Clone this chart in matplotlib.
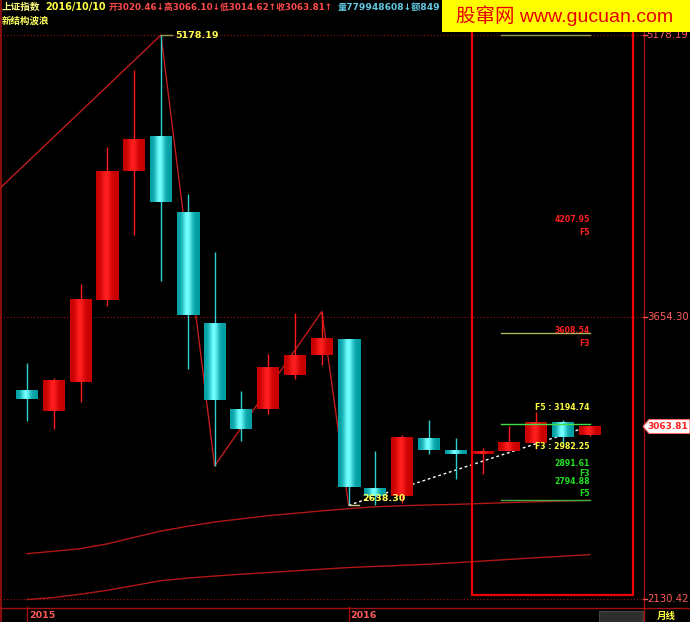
import matplotlib
matplotlib.use('Agg')
import matplotlib.pyplot as plt
import numpy as np
from matplotlib.patches import Rectangle, Polygon
from matplotlib.lines import Line2D

plt.rcParams['font.family'] = ['DejaVu Sans', 'Noto Sans CJK SC']

# ---------------- data ----------------
months = ['2015-01', '2015-02', '2015-03', '2015-04', '2015-05', '2015-06',
          '2015-07', '2015-08', '2015-09', '2015-10', '2015-11', '2015-12',
          '2016-01', '2016-02', '2016-03', '2016-04', '2016-05', '2016-06',
          '2016-07', '2016-08', '2016-09', '2016-10']
opens = [3258.63, 3148.13, 3302.41, 3748.68, 4441.66, 4633.10,
         4216.82, 3617.00, 3157.83, 3156.07, 3340.00, 3450.00,
         3536.59, 2730.00, 2690.00, 3001.00, 2937.00, 2917.00,
         2931.00, 2975.00, 3085.00, 3020.46]
highs = [3406.79, 3324.55, 3835.57, 4572.39, 4986.50, 5178.19,
         4317.05, 4006.34, 3256.74, 3457.88, 3678.27, 3684.57,
         3538.69, 2933.96, 3018.80, 3097.00, 3002.00, 2945.00,
         3069.00, 3140.00, 3100.00, 3066.10]
lows = [3095.07, 3049.11, 3198.00, 3716.86, 4099.13, 3847.88,
        3373.54, 2850.71, 2983.54, 3133.00, 3322.00, 3396.00,
        2638.30, 2638.96, 2649.00, 2913.00, 2780.00, 2807.00,
        2929.00, 2940.00, 2960.00, 3014.62]
closes = [3210.36, 3310.30, 3747.90, 4441.66, 4611.74, 4277.22,
          3663.73, 3205.99, 3052.78, 3382.56, 3445.40, 3539.18,
          2737.60, 2687.98, 3003.92, 2938.32, 2916.62, 2929.61,
          2979.34, 3085.49, 3004.70, 3063.81]
ma_a = [2377, 2390, 2404, 2430, 2465, 2499, 2525, 2548, 2565, 2582, 2595,
        2608, 2620, 2630, 2636, 2640, 2643, 2648, 2653, 2657, 2661, 2665]
ma_b = [2129, 2140, 2158, 2179, 2205, 2231, 2245, 2256, 2266, 2275, 2284,
        2293, 2302, 2308, 2314, 2320, 2328, 2337, 2346, 2355, 2363, 2372]

year_labels = ['2015', '2016']
year_idx = [0, 12]
axis_ticks = [5178.19, 3654.30, 2130.42]
tick_labels = ['5178.19', '3654.30', '2130.42']
last_close = 3063.81

zig_idx = [-1.0, 5, 7, 11, 12]
zig_price = [4352.0, 5178.19, 2850.71, 3684.57, 2638.30]
trend_idx = [12, 20.7]
trend_price = [2638.30, 3052.0]

level_prices = [5178.19, 3568.7, 3077.0, 2666.7]
level_colors = ['#8f9a3c', '#aab25a', '#44dd44', '#3fae3f']

fib_values = [4207.95, 3608.54, 3194.74, 2982.25, 2891.61, 2794.88]
fib_names = ['F5', 'F3', 'F5', 'F3', 'F3', 'F5']
fib_colors = ['#ff2020', '#ff2020', '#ffff40', '#ffff40', '#20e020', '#20e020']
fib_style = ['stack', 'stack', 'inline', 'inline', 'stack', 'stack']

peak_label = '5178.19'
low_label = '2638.30'

# ---------------- figure ----------------
W, H = 690, 622
fig = plt.figure(figsize=(W / 100, H / 100), dpi=100, facecolor='black')


def fx(px):
    return px / W


def fy(py):
    return 1 - py / H


# price scale: 5178.19 at y=35 px, 2130.42 at y=599.3 px
k = (5178.19 - 2130.42) / (599.3 - 35.0)
ytop = 5178.19 + 35 * k
ybot = 5178.19 - (607 - 35) * k
ax_bottom_px = 607
ax = fig.add_axes([0, fy(ax_bottom_px), fx(643), ax_bottom_px / H])
ax.set_facecolor('black')
ax.set_xlim(-27 / 26.8, (643 - 27) / 26.8)
ax.set_ylim(ybot, ytop)
ax.set_autoscale_on(False)
for s in ax.spines.values():
    s.set_visible(False)
ax.set_xticks([])
ax.set_yticks([])

dark_red = '#a01010'
# dotted horizontal grid lines at tick prices
for p in axis_ticks:
    ax.axhline(p, color='#a01515', lw=0.8, ls=(0, (1, 2)), zorder=1)

# moving averages
xi = np.arange(len(months))
ax.plot(xi, ma_a, color='#b01818', lw=1, zorder=2)
ax.plot(xi, ma_b, color='#b01818', lw=1, zorder=2)

# zigzag
ax.plot(zig_idx, zig_price, color='#c01c1c', lw=1, zorder=4)
ax.plot(trend_idx, trend_price, color='white', lw=1, ls=(0, (2, 2)), zorder=4)

# candles with gradient
wbody = 22 / 26.8
ncol = 22
t = np.linspace(-1, 1, ncol)
shade = np.exp(-((t + 0.1) / 0.45) ** 2)
red_grad = np.zeros((1, ncol, 3))
red_grad[0, :, 0] = 0.78 + 0.22 * shade
red_grad[0, :, 1] = 0.0 + 0.12 * shade
red_grad[0, :, 2] = 0.0 + 0.12 * shade
cyan_grad = np.zeros((1, ncol, 3))
cyan_grad[0, :, 0] = 0.0 + 0.45 * shade
cyan_grad[0, :, 1] = 0.62 + 0.38 * shade
cyan_grad[0, :, 2] = 0.64 + 0.36 * shade

for i in range(len(months)):
    o, h, l, c = opens[i], highs[i], lows[i], closes[i]
    up = c >= o
    wick_col = '#ff1a1a' if up else '#30d0d0'
    ax.plot([i, i], [l, h], color=wick_col, lw=1, zorder=5,
            solid_capstyle='butt')
    lo_b, hi_b = min(o, c), max(o, c)
    if hi_b - lo_b < 2 * k:
        lo_b, hi_b = (o + c) / 2 - k, (o + c) / 2 + k
    ax.imshow(red_grad if up else cyan_grad, aspect='auto',
              extent=(i - wbody / 2, i + wbody / 2, lo_b, hi_b),
              interpolation='bilinear', zorder=6)

# level lines on right
for p, col in zip(level_prices, level_colors):
    ax.plot([17.7, 21], [p, p], color=col, lw=1, zorder=7)

# fib labels
fsz = 5.6
for j, (v, n, col, st) in enumerate(zip(fib_values, fib_names, fib_colors,
                                         fib_style)):
    if st == 'inline':
        ax.annotate(f'{n} : {v:.2f}', xy=(21, v), xytext=(0, -0.5),
                    textcoords='offset points', ha='right', va='top',
                    color=col, fontsize=fsz, fontweight='bold', zorder=9)
    else:
        ax.annotate(f'{v:.2f}', xy=(21, v), xytext=(0, -0.5),
                    textcoords='offset points', ha='right', va='top',
                    color=col, fontsize=fsz, fontweight='bold', zorder=9)
        off = -8.0 if j == 4 else -9.3
        ax.annotate(n, xy=(21, v), xytext=(0, off),
                    textcoords='offset points', ha='right', va='top',
                    color=col, fontsize=fsz, fontweight='bold', zorder=9)

# peak and low annotations
ax.plot([5, 5.42], [5178.19, 5178.19], color='#9a9a50', lw=1, zorder=8)
ax.annotate(peak_label, xy=(5, 5178.19), xytext=(10.3, 0),
            textcoords='offset points', ha='left', va='center',
            color='#ffff50', fontsize=6.8, fontweight='bold', zorder=9)
ax.plot([12, 12.4], [2638.30, 2638.30], color='#c8c890', lw=1, zorder=8)
ax.annotate(low_label, xy=(12, 2638.30), xytext=(9.5, 5),
            textcoords='offset points', ha='left', va='center',
            color='#ffff50', fontsize=6.8, fontweight='bold', zorder=9)

# ---------------- overlays in figure pixel space ----------------
ft = fig.transFigure

# red rectangle
fig.add_artist(Rectangle((fx(472), fy(594.5)), fx(633) - fx(472),
                         fy(20) - fy(594.5), fill=False, ec='#ee0000',
                         lw=1.6, transform=ft, zorder=10))

# frame lines
fig.add_artist(Line2D([fx(0.5), fx(0.5)], [fy(0), fy(622)], color=dark_red,
                      lw=1.2, transform=ft))
fig.add_artist(Line2D([fx(643.5), fx(643.5)], [fy(0), fy(622)], color=dark_red,
                      lw=1, transform=ft))
fig.add_artist(Line2D([0, 1], [fy(607.5), fy(607.5)], color=dark_red, lw=1,
                      transform=ft))

# bottom year labels
for lab, idx in zip(year_labels, year_idx):
    px = 27 + 26.8 * idx
    fig.add_artist(Line2D([fx(px), fx(px)], [fy(607), fy(622)], color=dark_red,
                          lw=1, transform=ft))
    fig.text(fx(px + 2), fy(615), lab, color='#ff5a5a', fontsize=6.8,
             fontweight='bold', ha='left', va='center')

fig.add_artist(Rectangle((fx(599), fy(622)), fx(643) - fx(599), fy(611) - fy(622),
                         fc='#2e2e2e', ec='#444444', lw=0.8, transform=ft))
fig.text(fx(666), fy(615.5), '月线', color='#ffff40', fontsize=6.8,
         fontweight='bold', ha='center', va='center',
         family=['Noto Sans CJK SC'])

# right axis labels
for p, lab in zip(axis_ticks, tick_labels):
    py = 35 + (5178.19 - p) / k
    fig.add_artist(Line2D([fx(643), fx(647)], [fy(py), fy(py)], color='#ff5050',
                          lw=1, transform=ft))
    fig.text(fx(688.5), fy(py), lab, color='#ff5a5a', fontsize=7.3,
             ha='right', va='center')

pyc = 35 + (5178.19 - last_close) / k
fig.add_artist(Polygon([(fx(643), fy(pyc)), (fx(649), fy(pyc - 7)),
                        (fx(690), fy(pyc - 7)), (fx(690), fy(pyc + 7)),
                        (fx(649), fy(pyc + 7))], closed=True, fc='white',
                       ec='#ff6060', lw=0.8, transform=ft, zorder=11))
fig.text(fx(688.5), fy(pyc), f'{last_close:.2f}', color='#ff2020', fontsize=6.5,
         fontweight='bold', ha='right', va='center', zorder=12)

# header
fig.text(fx(2), fy(7), '上证指数', color='#ffff80', fontsize=6.9,
         fontweight='bold', ha='left', va='center', family=['Noto Sans CJK SC'])
fig.text(fx(45), fy(7), '2016/10/10', color='#ffff40', fontsize=6.9,
         fontweight='bold', ha='left', va='center')
fig.text(fx(109), fy(7),
         f'开{opens[-1]:.2f}↓高{highs[-1]:.2f}↓低{lows[-1]:.2f}↑收{closes[-1]:.2f}↑',
         color='#ff4a4a', fontsize=6.35, fontweight='bold', ha='left', va='center',
         family=['DejaVu Sans', 'Noto Sans CJK SC'])
fig.text(fx(338), fy(7), '量779948608↓额849', color='#60c8e0', fontsize=6.6,
         fontweight='bold', ha='left', va='center',
         family=['DejaVu Sans', 'Noto Sans CJK SC'])
fig.text(fx(2), fy(21), '新结构波浪', color='#ffff60', fontsize=6.8,
         fontweight='bold', ha='left', va='center', family=['Noto Sans CJK SC'])

# banner
fig.add_artist(Rectangle((fx(442), fy(32)), 1 - fx(442), fy(0) - fy(32),
                         fc='#ffff00', ec='none', transform=ft, zorder=20))
fig.text(fx(456), fy(16), '股窜网 www.gucuan.com', color='#e80000',
         fontsize=14, ha='left', va='center', zorder=21,
         family=['Liberation Sans', 'Noto Sans CJK SC'])

fig.savefig('out.png', dpi=100, facecolor='black')
